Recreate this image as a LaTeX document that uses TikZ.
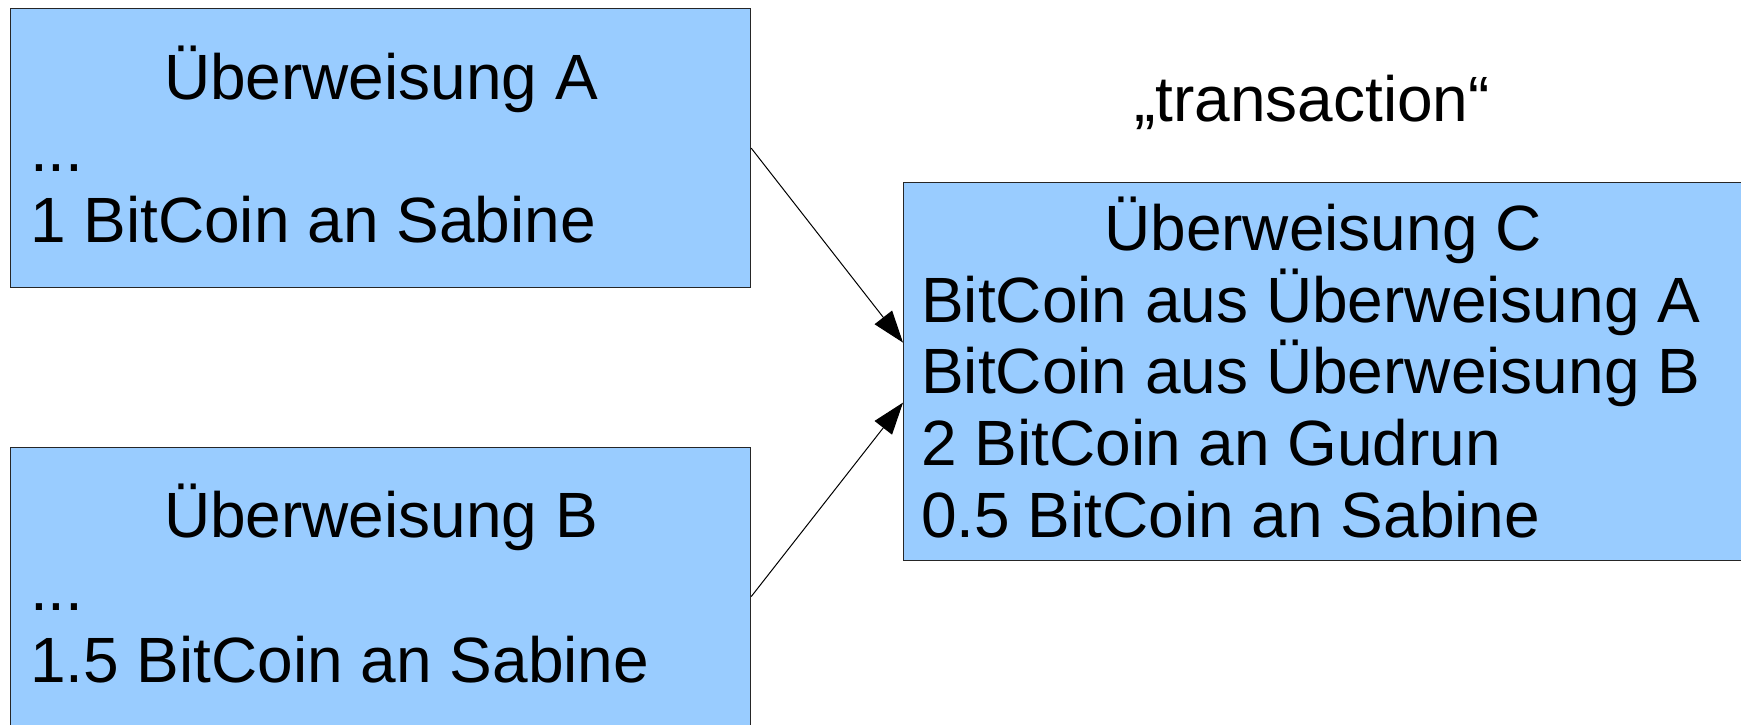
\documentclass[tikz,border=0pt]{standalone}
\usepackage{fontspec}
\setmainfont{Liberation Sans}
\usetikzlibrary{arrows.meta}
\definecolor{boxblue}{HTML}{99CCFF}
\begin{document}
\begin{tikzpicture}[x=1pt,y=-1pt,
  box/.style={draw=black!85, line width=1.2pt, fill=boxblue, inner sep=0pt, anchor=north west},
  txt/.style={inner sep=0pt, font=\fontsize{64}{72}\selectfont},
  conn/.style={line width=1pt, -{Triangle[length=32pt,width=22pt]}}]
\useasboundingbox (0,0) rectangle (1741,724);
\clip (0,0) rectangle (1741,724);
\fill[white] (0,0) rectangle (1741,724);
% boxes
\node[box, minimum width=740pt, minimum height=279pt] (A) at (10,8) {};
\node[box, minimum width=740pt, minimum height=298pt] (B) at (10,447) {};
\node[box, minimum width=840pt, minimum height=378pt] (C) at (903,182) {};
% texts box A
\node[txt, anchor=base] (At) at (381,99) {Überweisung A};
\node[txt, anchor=base west] (A1) at (30,171) {...};
\node[txt, anchor=base west] (A2) at (30,242) {1 BitCoin an Sabine};
% texts box B
\node[txt, anchor=base] (Bt) at (381,537) {Überweisung B};
\node[txt, anchor=base west] (B1) at (30,610) {...};
\node[txt, anchor=base west] (B2) at (30,682) {1.5 BitCoin an Sabine};
% texts box C
\node[txt, anchor=base] (Ct) at (1323,250) {Überweisung C};
\node[txt, anchor=base west] (C1) at (921,322) {BitCoin aus Überweisung A};
\node[txt, anchor=base west] (C2) at (921,393) {BitCoin aus Überweisung B};
\node[txt, anchor=base west] (C3) at (921,465) {2 BitCoin an Gudrun};
\node[txt, anchor=base west] (C4) at (921,537) {0.5 BitCoin an Sabine};
% label
\node[txt, anchor=base] (T) at (1312,121) {„transaction“};
% connectors
\draw[conn] (A.east) -- ([yshift=29pt]C.west);
\draw[conn] (B.east) -- ([yshift=-31pt]C.west);
\end{tikzpicture}
\end{document}
